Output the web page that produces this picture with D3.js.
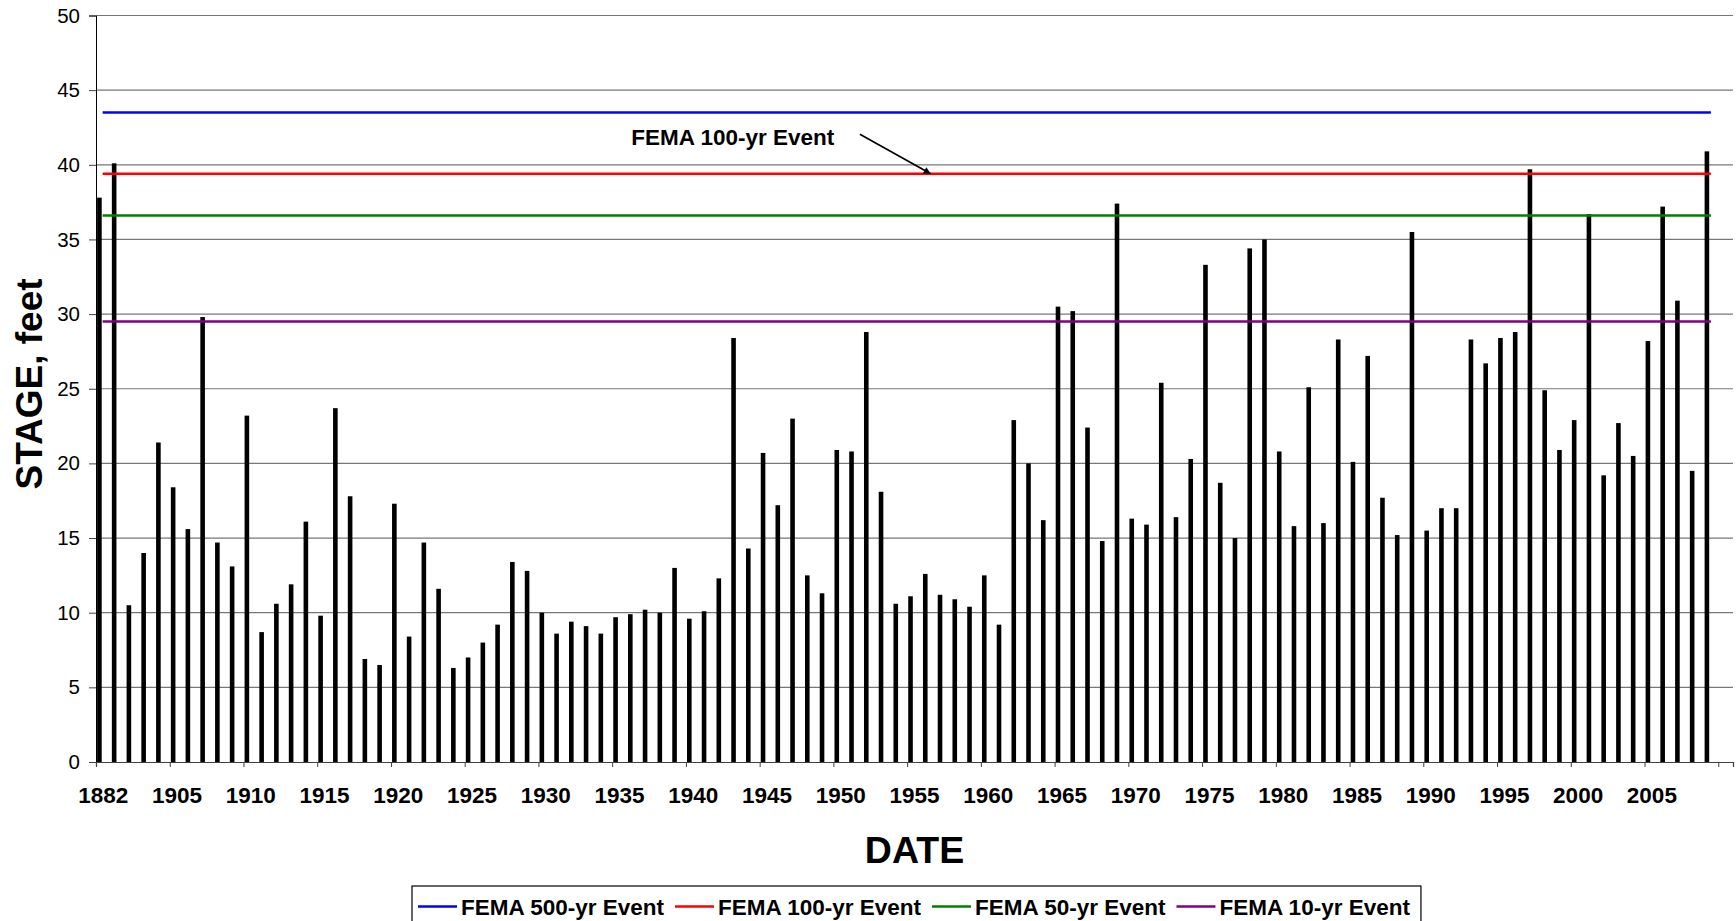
<!DOCTYPE html>
<html>
<head>
<meta charset="utf-8">
<script src="https://cdn.jsdelivr.net/npm/d3@7"></script>
<style>
  body { margin: 0; background: #fff; }
  text { font-family: "Liberation Sans", Arial, sans-serif; }
</style>
</head>
<body>
<script>
//SVG size
var svgWidth = 1736;
var svgHeight = 921;

//categories (only every 5th one gets a label)
var years = ["1882", "1889", "1902", "1903", "1904"].concat(d3.range(1905, 2010).map(String));

//annual peak stage, feet
var stages = [
    37.8, 40.1, 10.5, 14.0, 21.4,
    18.4, 15.6, 29.8, 14.7, 13.1,   // 1905-1909
    23.2, 8.7, 10.6, 11.9, 16.1,    // 1910-1914
    9.8, 23.7, 17.8, 6.9, 6.5,      // 1915-1919
    17.3, 8.4, 14.7, 11.6, 6.3,     // 1920-1924
    7.0, 8.0, 9.2, 13.4, 12.8,      // 1925-1929
    10.0, 8.6, 9.4, 9.1, 8.6,       // 1930-1934
    9.7, 9.9, 10.2, 10.0, 13.0,     // 1935-1939
    9.6, 10.1, 12.3, 28.4, 14.3,    // 1940-1944
    20.7, 17.2, 23.0, 12.5, 11.3,   // 1945-1949
    20.9, 20.8, 28.8, 18.1, 10.6,   // 1950-1954
    11.1, 12.6, 11.2, 10.9, 10.4,   // 1955-1959
    12.5, 9.2, 22.9, 20.0, 16.2,    // 1960-1964
    30.5, 30.2, 22.4, 14.8, 37.4,   // 1965-1969
    16.3, 15.9, 25.4, 16.4, 20.3,   // 1970-1974
    33.3, 18.7, 15.0, 34.4, 35.0,   // 1975-1979
    20.8, 15.8, 25.1, 16.0, 28.3,   // 1980-1984
    20.1, 27.2, 17.7, 15.2, 35.5,   // 1985-1989
    15.5, 17.0, 17.0, 28.3, 26.7,   // 1990-1994
    28.4, 28.8, 39.7, 24.9, 20.9,   // 1995-1999
    22.9, 36.7, 19.2, 22.7, 20.5,   // 2000-2004
    28.2, 37.2, 30.9, 19.5, 40.9    // 2005-2009
];

//FEMA flood levels
var femaNames = ["FEMA 500-yr Event", "FEMA 100-yr Event", "FEMA 50-yr Event", "FEMA 10-yr Event"];
var femaLevels = [43.5, 39.4, 36.6, 29.5];
var femaColors = ["#0000ff", "#ff0000", "#008000", "#800080"];

//y ticks
var yTicks = [0, 5, 10, 15, 20, 25, 30, 35, 40, 45, 50];

//create SVG
var svg = d3.select("body")
    .append("svg")
    .attr("width", svgWidth)
    .attr("height", svgHeight)
    .style("display", "block");

svg.append("rect")
    .attr("width", svgWidth)
    .attr("height", svgHeight)
    .attr("fill", "#fff");

//plot box (window.top is taken, so plotTop etc.)
var plotLeft = 96, plotRight = 1733, plotTop = 15.5, plotBottom = 762;

//one slot per year plus one empty slot at the end
var x = d3.scaleLinear().domain([0, years.length + 1]).range([plotLeft, plotRight]);
var y = d3.scaleLinear().domain([0, 50]).range([plotBottom, plotTop]);

//gridlines
svg.append("g")
    .selectAll("line")
    .data(yTicks.filter(function(d){ return d > 0; }))
    .enter()
    .append("line")
    .attr("x1", plotLeft)
    .attr("x2", plotRight)
    .attr("y1", function(d){ return y(d); })
    .attr("y2", function(d){ return y(d); })
    .style("stroke", "#777")
    .style("stroke-width", 1.2);

//y axis
var yAxis = svg.append("g")
    .attr("transform", "translate(" + plotLeft + ",0)")
    .call(d3.axisLeft(y).tickValues(yTicks).tickSize(7).tickPadding(9));
yAxis.select(".domain").attr("stroke", "#000");
yAxis.selectAll(".tick line").attr("stroke", "#404040");
yAxis.selectAll("text")
    .style("font-size", "20.5px")
    .style("font-family", "'Liberation Sans', Arial, sans-serif")
    .attr("fill", "#000");

//x axis: ticks every 5 slots, labels in the middle of the slot
var xTickIdx = d3.range(0, years.length + 2, 5);
var xAxis = svg.append("g")
    .attr("transform", "translate(0," + plotBottom + ")")
    .call(d3.axisBottom(x).tickValues(xTickIdx).tickSize(5).tickFormat(""));
xAxis.select(".domain").attr("stroke", "#404040").attr("stroke-width", 1.2);
xAxis.selectAll(".tick line").attr("stroke", "#404040");

svg.append("g")
    .selectAll("text")
    .data(xTickIdx.filter(function(i){ return i < years.length; }))
    .enter()
    .append("text")
    .attr("x", function(i){ return x(i + 0.5); })
    .attr("y", plotBottom + 41)
    .attr("text-anchor", "middle")
    .style("font-size", "22.5px")
    .style("font-weight", "bold")
    .text(function(i){ return years[i]; });

//bars
svg.append("g")
    .selectAll("rect")
    .data(stages)
    .enter()
    .append("rect")
    .attr("x", function(d, i){ return x(i) + 1.1; })
    .attr("width", 4.6)
    .attr("y", function(d){ return y(d); })
    .attr("height", function(d){ return y(0) - y(d); })
    .attr("fill", "#000");

//FEMA lines, drawn from first to last slot centre
svg.append("g")
    .selectAll("line")
    .data(femaLevels)
    .enter()
    .append("line")
    .attr("x1", x(0.45))
    .attr("x2", x(years.length - 0.5))
    .attr("y1", function(d){ return y(d); })
    .attr("y2", function(d){ return y(d); })
    .style("stroke", function(d, i){ return femaColors[i]; })
    .style("stroke-width", 2.6);

//annotation with arrow pointing at the 100-yr line
svg.append("defs").append("marker")
    .attr("id", "arrow")
    .attr("viewBox", "0 0 10 10")
    .attr("refX", 10)
    .attr("refY", 5)
    .attr("markerWidth", 8)
    .attr("markerHeight", 7)
    .attr("orient", "auto")
    .attr("markerUnits", "userSpaceOnUse")
    .append("path")
    .attr("d", "M0,0L10,5L0,10z")
    .attr("fill", "#000");

svg.append("text")
    .attr("x", x(36.3))
    .attr("y", y(41.3))
    .style("font-size", "22.5px")
    .style("font-weight", "bold")
    .text("FEMA 100-yr Event");

svg.append("line")
    .attr("x1", x(51.8))
    .attr("y1", y(42.05))
    .attr("x2", x(56.6))
    .attr("y2", y(femaLevels[1]))
    .style("stroke", "#000")
    .style("stroke-width", 1.6)
    .attr("marker-end", "url(#arrow)");

//axis titles
svg.append("text")
    .attr("transform", "translate(42,384) rotate(-90)")
    .attr("text-anchor", "middle")
    .style("font-size", "37px")
    .style("font-weight", "bold")
    .text("STAGE, feet");

svg.append("text")
    .attr("x", (plotLeft + plotRight) / 2)
    .attr("y", 863)
    .attr("text-anchor", "middle")
    .style("font-size", "37.5px")
    .style("font-weight", "bold")
    .text("DATE");

//legend
var legend = svg.append("g");
var legendBox = legend.append("rect")
    .attr("y", 886)
    .attr("height", 40)
    .attr("fill", "#fff")
    .style("stroke", "#000")
    .style("stroke-width", 1.2);

var lx = 418;
femaNames.forEach(function(name, i){
    legend.append("line")
        .attr("x1", lx)
        .attr("x2", lx + 39)
        .attr("y1", 906.5)
        .attr("y2", 906.5)
        .style("stroke", femaColors[i])
        .style("stroke-width", 2.6);
    var t = legend.append("text")
        .attr("x", lx + 43)
        .attr("y", 915)
        .style("font-size", "22.5px")
        .style("font-weight", "bold")
        .text(name);
    lx = lx + 43 + t.node().getComputedTextLength() + 11;
});
legendBox.attr("x", 412).attr("width", lx - 412);
</script>
</body>
</html>
